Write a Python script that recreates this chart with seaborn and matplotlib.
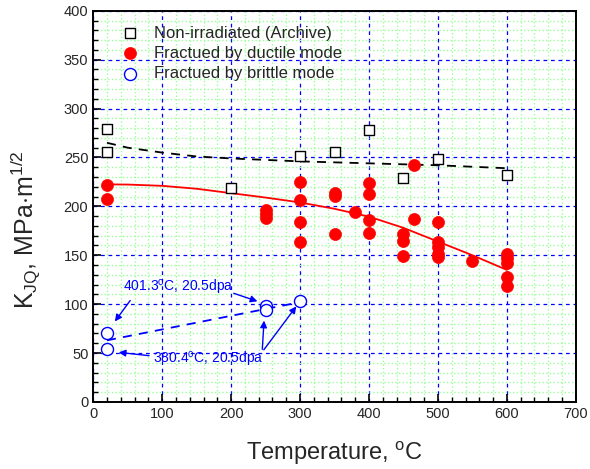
import matplotlib
matplotlib.use("Agg")
import matplotlib.pyplot as plt
import pandas as pd
import seaborn as sns
from matplotlib.ticker import MultipleLocator

# Non-irradiated (archive) data
arch_temp = [20, 20, 200, 300, 350, 400, 450, 500, 600]
arch_kjq = [279, 256, 219, 251, 256, 278, 229, 248, 232]

# Ductile fracture data
duct_temp = [20, 20, 250, 250, 250, 300, 300, 300, 300, 350, 350, 350,
             380, 400, 400, 400, 400, 450, 450, 450, 465, 465,
             500, 500, 500, 500, 500, 550, 600, 600, 600, 600, 600]
duct_kjq = [222, 208, 196, 192, 188, 225, 206, 184, 164, 214, 211, 172,
            194, 224, 213, 186, 173, 172, 165, 149, 242, 187,
            184, 164, 158, 151, 148, 144, 151, 147, 142, 128, 119]

# Brittle fracture data
brit_temp = [20, 20, 250, 250, 300]
brit_kjq = [71, 54, 98, 94, 103]

# Fit curves
arch_fit_t = [20, 50, 100, 150, 200, 300, 400, 500, 600]
arch_fit_k = [265, 260, 255, 251, 249, 246, 244, 242, 239]
duct_fit_t = [20, 50, 100, 150, 200, 250, 300, 350, 400, 450, 500, 550, 600]
duct_fit_k = [222.5, 222.3, 221, 218, 213.5, 209, 204, 197.5, 189.5, 178, 164, 150, 135]
brit_fit_t = [20, 300]
brit_fit_k = [63, 102]

sns.set_theme(style="white")
plt.rcParams['font.family'] = ['Liberation Sans', 'DejaVu Sans']
plt.rcParams['mathtext.fontset'] = 'custom'
plt.rcParams['mathtext.rm'] = 'Liberation Sans'
plt.rcParams['mathtext.it'] = 'Liberation Sans'

fig = plt.figure(figsize=(5.9, 4.69), dpi=100)
ax = fig.add_axes([0.158, 0.143, 0.818, 0.834])

# grid: green dotted minor, blue dashed major
ax.xaxis.set_major_locator(MultipleLocator(100))
ax.xaxis.set_minor_locator(MultipleLocator(20))
ax.yaxis.set_major_locator(MultipleLocator(50))
ax.yaxis.set_minor_locator(MultipleLocator(10))
ax.grid(which='minor', color='#99ff99', linestyle=':', linewidth=1.0)
ax.grid(which='major', color='blue', linestyle=(0, (3, 3)), linewidth=0.9)
ax.set_axisbelow(True)

arch = pd.DataFrame({'T': arch_temp, 'K': arch_kjq})
duct = pd.DataFrame({'T': duct_temp, 'K': duct_kjq})
brit = pd.DataFrame({'T': brit_temp, 'K': brit_kjq})

sns.lineplot(x=arch_fit_t, y=arch_fit_k, ax=ax, color='black',
             linestyle=(0, (5, 4)), linewidth=1.3)
sns.lineplot(x=duct_fit_t, y=duct_fit_k, ax=ax, color='red', linewidth=1.3)
sns.lineplot(x=brit_fit_t, y=brit_fit_k, ax=ax, color='blue',
             linestyle=(0, (5, 4)), linewidth=1.3)

sns.scatterplot(data=arch, x='T', y='K', ax=ax, marker='s', s=55,
                facecolor='white', edgecolor='black', linewidth=1.0,
                label='Non-irradiated (Archive)', zorder=4)
sns.scatterplot(data=duct, x='T', y='K', ax=ax, marker='o', s=75,
                color='red', edgecolor='red', linewidth=0.5,
                label='Fractued by ductile mode', zorder=5)
sns.scatterplot(data=brit, x='T', y='K', ax=ax, marker='o', s=75,
                facecolor='white', edgecolor='blue', linewidth=1.0,
                label='Fractued by brittle mode', zorder=5)

# annotations
akw = dict(arrowstyle='-|>', color='blue', lw=1.0, mutation_scale=10)
ax.text(43, 117, '401.3$^{\\mathrm{o}}$C, 20.5dpa', color='blue',
        fontsize=10, va='center', ha='left')
ax.annotate('', xy=(29, 80), xytext=(56, 106), arrowprops=akw)
ax.annotate('', xy=(242, 102), xytext=(200, 112), arrowprops=akw)
ax.text(87, 43, '380.4$^{\\mathrm{o}}$C, 20.5dpa', color='blue',
        fontsize=10, va='center', ha='left')
ax.annotate('', xy=(33, 51), xytext=(85, 47), arrowprops=akw)
ax.annotate('', xy=(248, 86), xytext=(245, 51), arrowprops=akw)
ax.annotate('', xy=(297, 100), xytext=(245, 51), arrowprops=akw)

ax.set_xlim(0, 700)
ax.set_ylim(0, 400)
ax.set_xlabel('Temperature, $^{\\mathrm{o}}$C', fontsize=17, labelpad=14)
ax.set_ylabel('K$_{\\mathrm{JQ}}$, MPa$\\cdot$m$^{\\mathrm{1/2}}$', fontsize=18,
              va='center')
ax.yaxis.set_label_coords(-0.141, 0.44)
ax.tick_params(which='both', direction='in', top=False, right=False,
               bottom=True, left=True, labelsize=10.5, color='black')
ax.tick_params(which='major', length=6, width=1.2)
ax.tick_params(which='minor', length=3.5, width=1.0)
for sp in ax.spines.values():
    sp.set_color('black')
    sp.set_linewidth(1.4)

leg = ax.legend(loc='upper left', frameon=False, fontsize=12,
                handlelength=1.0, handletextpad=0.95, labelspacing=0.31,
                borderpad=0.2, bbox_to_anchor=(0.035, 0.992))

fig.savefig('out.png', dpi=100)
